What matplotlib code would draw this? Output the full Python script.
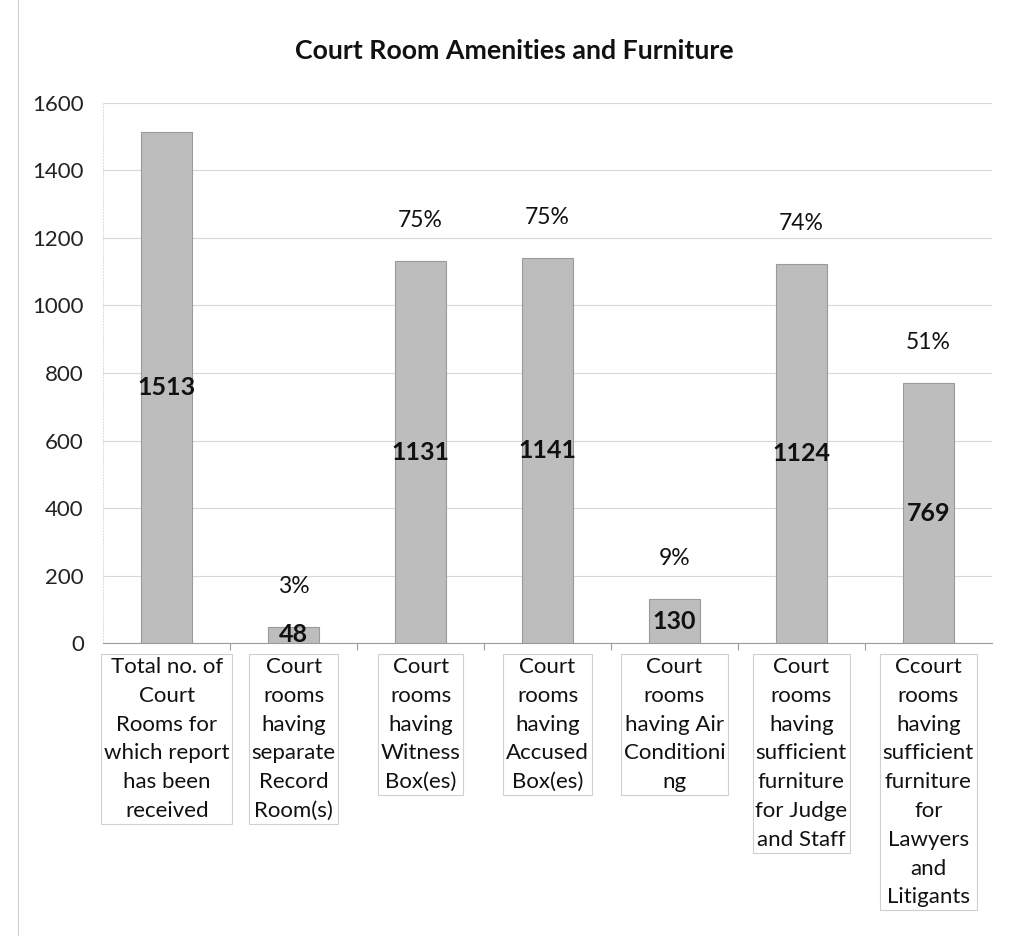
import numpy as np
import matplotlib.pyplot as plt
import matplotlib.transforms as mtransforms

categories = [
    "Total no. of\nCourt\nRooms for\nwhich report\nhas been\nreceived",
    "Court\nrooms\nhaving\nseparate\nRecord\nRoom(s)",
    "Court\nrooms\nhaving\nWitness\nBox(es)",
    "Court\nrooms\nhaving\nAccused\nBox(es)",
    "Court\nrooms\nhaving Air\nConditioni\nng",
    "Court\nrooms\nhaving\nsufficient\nfurniture\nfor Judge\nand Staff",
    "Ccourt\nrooms\nhaving\nsufficient\nfurniture\nfor\nLawyers\nand\nLitigants",
]
counts = [1513, 48, 1131, 1141, 130, 1124, 769]
percents = ["", "3%", "75%", "75%", "9%", "74%", "51%"]

plt.rcParams['font.family'] = ['Lato', 'DejaVu Sans']

fig = plt.figure(figsize=(10.13, 9.36), dpi=100)
ax = fig.add_axes([0.102, 0.313, 0.877, 0.577])

x = np.arange(len(counts))
ax.bar(x, counts, width=0.40, color='#bdbdbd', edgecolor='#9a9a9a', linewidth=0.8, zorder=2)

ax.set_xlim(-0.5, len(counts) - 0.5)
ax.set_ylim(0, 1600)
ax.set_yticks(np.arange(0, 1601, 200))
ax.tick_params(axis='y', length=0, labelsize=16, pad=14, colors='#222222')
ax.yaxis.grid(True, color='#d8d8d8', linewidth=0.8, zorder=0)
for s in ['top', 'right']:
    ax.spines[s].set_visible(False)
ax.spines['left'].set_color('#e0e0e0')
ax.spines['left'].set_linestyle(':')
ax.spines['bottom'].set_color('#9a9a9a')

# tick marks between categories
ax.set_xticks(np.arange(0.5, len(counts) - 0.5, 1))
ax.set_xticklabels([])
ax.tick_params(axis='x', length=5, color='#9a9a9a', direction='out')

for i, v in enumerate(counts):
    ax.text(i, v / 2, str(v), ha='center', va='center', fontsize=18,
            fontweight='bold', color='#111111', zorder=3)
    if percents[i]:
        ax.text(i, v + 120, percents[i], ha='center', va='center',
                fontsize=16.5, color='#111111')

trans = mtransforms.blended_transform_factory(ax.transData, ax.transAxes)
for i, lab in enumerate(categories):
    ax.text(i, -0.026, lab, transform=trans, ha='center', va='top',
            fontsize=16, linespacing=1.55, color='#111111',
            bbox=dict(boxstyle='square,pad=0.12', facecolor='white',
                      edgecolor='#d0d0d0', linewidth=0.8))

fig.text(0.508, 0.946, "Court Room Amenities and Furniture", ha='center',
         va='center', fontsize=19.3, fontweight='bold', color='#111111')

# faint chart border on the left
fig.add_artist(plt.Line2D([0.018, 0.018], [0.0, 1.0], color='#d0d0d0', linewidth=0.8))

fig.savefig('out.png', dpi=100)
